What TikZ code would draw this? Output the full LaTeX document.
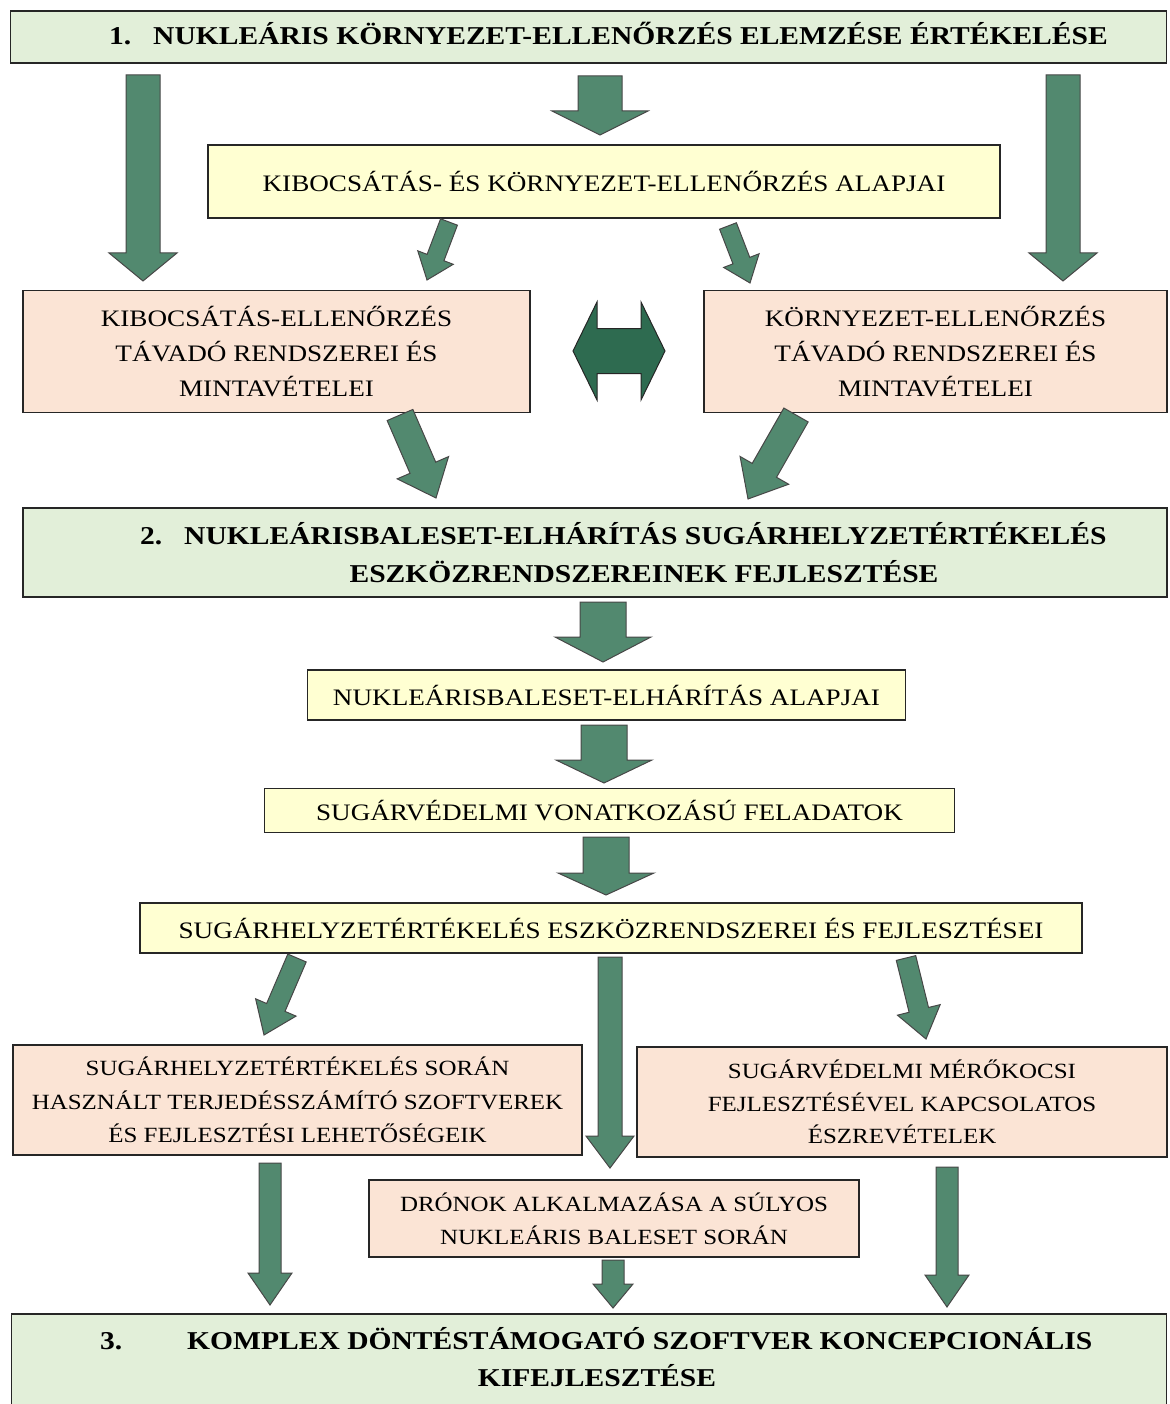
\documentclass[tikz,border=0pt]{standalone}
\usepackage{fontspec}
\setmainfont{Liberation Serif}[FakeStretch=1.15]
\usetikzlibrary{calc}

\definecolor{titlegreen}{HTML}{E2EFD9}
\definecolor{lightyellow}{HTML}{FFFFD2}
\definecolor{lightpink}{HTML}{FBE4D5}
\definecolor{arrowgreen}{HTML}{52896F}
\definecolor{darkarrow}{HTML}{2E6B50}
\definecolor{edge}{HTML}{262626}

\newcommand\regfont[1]{\fontsize{23.6}{#1}\selectfont}
\newcommand\smallregfont[1]{\fontsize{21.7}{#1}\selectfont}
\newcommand\boldfont{\fontsize{25.7}{30}\selectfont\bfseries}

% straight block arrow: tail, tip, half shaft width, half head width, head length
\newcommand\blockarrow[5]{%
  \coordinate (ba-neck) at ($(#2)!#5!(#1)$);
  \filldraw[blockarrowstyle]
    ($(#1)!#3!90:(#2)$) -- ($(ba-neck)!#3!90:(#2)$) -- ($(ba-neck)!#4!90:(#2)$)
    -- (#2)
    -- ($(ba-neck)!#4!-90:(#2)$) -- ($(ba-neck)!#3!-90:(#2)$) -- ($(#1)!#3!-90:(#2)$)
    -- cycle;
}
% two-headed block arrow: tip, tip, half shaft width, half head width, head length
\newcommand\doubleblockarrow[5]{%
  \coordinate (da-neckA) at ($(#1)!#5!(#2)$);
  \coordinate (da-neckB) at ($(#2)!#5!(#1)$);
  \filldraw[doublearrowstyle]
    (#1) -- ($(da-neckA)!#4!90:(#2)$) -- ($(da-neckA)!#3!90:(#2)$)
    -- ($(da-neckB)!#3!-90:(#1)$) -- ($(da-neckB)!#4!-90:(#1)$)
    -- (#2)
    -- ($(da-neckB)!#4!90:(#1)$) -- ($(da-neckB)!#3!90:(#1)$)
    -- ($(da-neckA)!#3!-90:(#2)$) -- ($(da-neckA)!#4!-90:(#2)$)
    -- cycle;
}

\tikzset{
  box/.style={draw=edge, line width=1.3pt, inner sep=0pt, align=center},
  titlebox/.style={box, fill=titlegreen},
  stagebox/.style={box, fill=lightyellow, font=\regfont{30}},
  topicbox/.style={box, fill=lightpink},
  titletext/.style={inner sep=0pt, font=\boldfont},
  blockarrowstyle/.style={fill=arrowgreen, draw=edge!85, line width=1pt, line join=miter},
  doublearrowstyle/.style={fill=darkarrow, draw=edge, line width=1pt, line join=miter},
}

\begin{document}
\begin{tikzpicture}[x=1pt, y=-1pt]
\useasboundingbox (0,0) rectangle (1169,1404);
\clip (0,0) rectangle (1169,1404);

% ---- level 1 ----
\node[titlebox, minimum width=1156pt, minimum height=52pt] (lvl1) at (588.5,37) {};
\node[titletext, anchor=base west] (lvl1num) at (109,45) {1.};
\node[titletext, anchor=base west] (lvl1txt) at (153,45) {NUKLEÁRIS KÖRNYEZET-ELLENŐRZÉS ELEMZÉSE ÉRTÉKELÉSE};

\node[stagebox, minimum width=792pt, minimum height=73pt] (basics1) at (604,181.5)
  {KIBOCSÁTÁS- ÉS KÖRNYEZET-ELLENŐRZÉS ALAPJAI};

\node[topicbox, minimum width=507pt, minimum height=122pt, font=\regfont{35}] (emission) at (276.5,351.5)
  {KIBOCSÁTÁS-ELLENŐRZÉS\\TÁVADÓ RENDSZEREI ÉS\\MINTAVÉTELEI};
\node[topicbox, minimum width=463pt, minimum height=122pt, font=\regfont{35}] (environment) at (935.5,351.5)
  {KÖRNYEZET-ELLENŐRZÉS\\TÁVADÓ RENDSZEREI ÉS\\MINTAVÉTELEI};

% ---- level 2 ----
\node[titlebox, minimum width=1144pt, minimum height=89pt] (lvl2) at (595,552.5) {};
\node[titletext, anchor=base west] (lvl2num) at (140,544) {2.};
\node[titletext, anchor=base west] (lvl2txt) at (184,544) {NUKLEÁRISBALESET-ELHÁRÍTÁS SUGÁRHELYZETÉRTÉKELÉS};
\node[titletext, anchor=base] (lvl2txtb) at (644,582) {ESZKÖZRENDSZEREINEK FEJLESZTÉSE};

\node[stagebox, minimum width=598pt, minimum height=50pt] (basics2) at (606.5,695)
  {NUKLEÁRISBALESET-ELHÁRÍTÁS ALAPJAI};
\node[stagebox, minimum width=690pt, minimum height=44pt] (tasks) at (609.5,810.5)
  {SUGÁRVÉDELMI VONATKOZÁSÚ FELADATOK};
\node[stagebox, minimum width=942pt, minimum height=50pt] (tools) at (611,928)
  {SUGÁRHELYZETÉRTÉKELÉS ESZKÖZRENDSZEREI ÉS FEJLESZTÉSEI};

\node[topicbox, minimum width=569pt, minimum height=110pt, font=\smallregfont{33.5}] (software) at (297.5,1100)
  {SUGÁRHELYZETÉRTÉKELÉS SORÁN\\HASZNÁLT TERJEDÉSSZÁMÍTÓ SZOFTVEREK\\ÉS FEJLESZTÉSI LEHETŐSÉGEIK};
\node[topicbox, minimum width=530pt, minimum height=110pt, font=\smallregfont{32.5}] (vehicle) at (902,1102)
  {SUGÁRVÉDELMI MÉRŐKOCSI\\FEJLESZTÉSÉVEL KAPCSOLATOS\\ÉSZREVÉTELEK};
\node[topicbox, minimum width=490pt, minimum height=77pt, font=\smallregfont{33}] (drones) at (614,1218.5)
  {DRÓNOK ALKALMAZÁSA A SÚLYOS\\NUKLEÁRIS BALESET SORÁN};

% ---- level 3 ----
\node[titlebox, minimum width=1155pt, minimum height=100pt] (lvl3) at (589,1364) {};
\node[titletext, anchor=base west] (lvl3num) at (100,1349) {3.};
\node[titletext, anchor=base west] (lvl3txt) at (187,1349) {KOMPLEX DÖNTÉSTÁMOGATÓ SZOFTVER KONCEPCIONÁLIS};
\node[titletext, anchor=base] (lvl3txtb) at (597,1386) {KIFEJLESZTÉSE};

% ---- arrow end points ----
\coordinate (a1t) at (143,75);    \coordinate (a1h) at (143,281);
\coordinate (a2t) at (600,76);    \coordinate (a2h) at (600,135);
\coordinate (a3t) at (1063,75);   \coordinate (a3h) at (1063,281);
\coordinate (a4t) at (449,222);   \coordinate (a4h) at (427,280);
\coordinate (a5t) at (728,226);   \coordinate (a5h) at (750,283);
\coordinate (dL)  at (573,351);   \coordinate (dR)  at (665,351);
\coordinate (a6t) at (400,415);   \coordinate (a6h) at (436,498);
\coordinate (a7t) at (796,415);   \coordinate (a7h) at (748,499);
\coordinate (a8t) at (603,602);   \coordinate (a8h) at (603,662);
\coordinate (a9t) at (604,725);   \coordinate (a9h) at (604,783);
\coordinate (a10t) at (606,837);  \coordinate (a10h) at (606,895);
\coordinate (a11t) at (297,958);  \coordinate (a11h) at (264,1035);
\coordinate (a12t) at (906,958);  \coordinate (a12h) at (926,1039);
\coordinate (a13t) at (610,957);  \coordinate (a13h) at (610,1168);
\coordinate (a14t) at (270,1163); \coordinate (a14h) at (270,1305);
\coordinate (a15t) at (613,1260); \coordinate (a15h) at (613,1308);
\coordinate (a16t) at (947,1167); \coordinate (a16h) at (947,1307);

% ---- block arrows ----
\blockarrow{a1t}{a1h}{17pt}{34pt}{28pt}
\blockarrow{a2t}{a2h}{22pt}{48pt}{24pt}
\blockarrow{a3t}{a3h}{17pt}{34pt}{28pt}
\blockarrow{a4t}{a4h}{9pt}{19pt}{24pt}
\blockarrow{a5t}{a5h}{9pt}{19pt}{24pt}
\doubleblockarrow{dL}{dR}{22.5pt}{49pt}{24pt}
\blockarrow{a6t}{a6h}{14pt}{28pt}{33pt}
\blockarrow{a7t}{a7h}{14pt}{28pt}{33pt}
\blockarrow{a8t}{a8h}{23pt}{48pt}{25pt}
\blockarrow{a9t}{a9h}{23pt}{48pt}{23pt}
\blockarrow{a10t}{a10h}{23pt}{48pt}{22pt}
\blockarrow{a11t}{a11h}{10pt}{22pt}{30pt}
\blockarrow{a12t}{a12h}{10pt}{22pt}{30pt}
\blockarrow{a13t}{a13h}{12pt}{24pt}{32pt}
\blockarrow{a14t}{a14h}{11pt}{22pt}{32pt}
\blockarrow{a15t}{a15h}{11pt}{20pt}{24pt}
\blockarrow{a16t}{a16h}{11pt}{22pt}{32pt}
\end{tikzpicture}
\end{document}
